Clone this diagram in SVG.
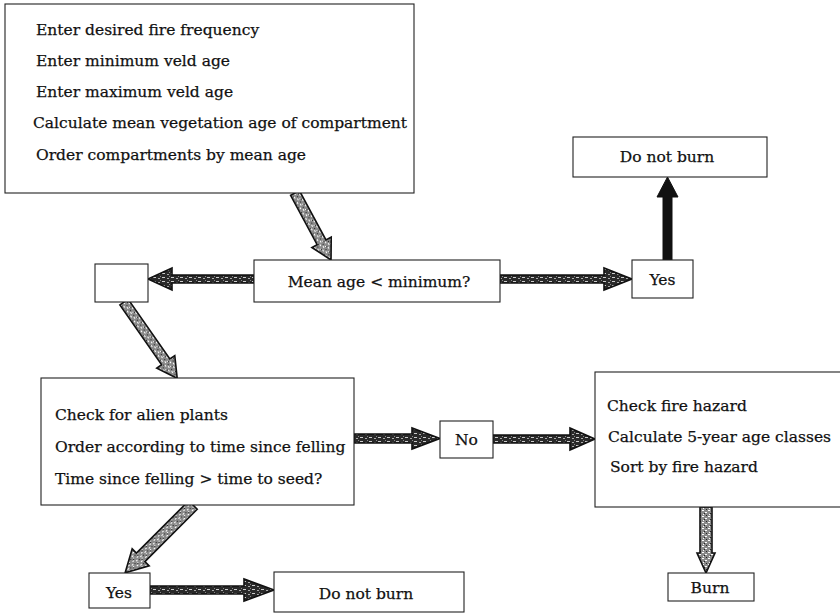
<svg xmlns="http://www.w3.org/2000/svg" width="840" height="614" viewBox="0 0 840 614">
<defs>
<pattern id="hl" width="6" height="6" patternUnits="userSpaceOnUse">
<rect width="6" height="6" fill="#8a8a8a"/>
<rect x="0" y="0" width="2" height="1" fill="#fff"/>
<rect x="3" y="2" width="2" height="1" fill="#fff"/>
<rect x="1" y="4" width="1" height="1" fill="#fff"/>
<rect x="4" y="5" width="1" height="1" fill="#222"/>
<rect x="2" y="3" width="1" height="1" fill="#222"/>
</pattern>
<pattern id="hd" width="9" height="4" patternUnits="userSpaceOnUse">
<rect width="9" height="4" fill="#2a2a2a"/>
<rect x="0" y="1" width="3" height="1" fill="#ccc"/>
<rect x="5" y="2" width="2" height="1" fill="#aaa"/>
<rect x="7" y="0" width="1" height="1" fill="#888"/>
</pattern>
<style>
.box{fill:#fff;stroke:#222;stroke-width:1.1}
.t{font-family:"DejaVu Serif","Liberation Serif",serif;font-size:15.5px;fill:#111;stroke:#111;stroke-width:0.25}
.c{text-anchor:middle}
.al{fill:url(#hl);stroke:#111;stroke-width:1.6;stroke-linejoin:miter}
.ad{fill:url(#hd);stroke:#111;stroke-width:1.6;stroke-linejoin:miter}
.ab{fill:#111;stroke:#111;stroke-width:1}
</style>
</defs>
<rect width="840" height="614" fill="#fff"/>

<g id="connectors">
<polygon class="al" transform="translate(295,193) rotate(61.7)" points="0,-5 56,-5 56,-11 76,0 56,11 56,5 0,5"/>
<polygon class="ad" points="254,275 172,275 172,268 148,279 172,290 172,283 254,283"/>
<polygon class="ad" points="500,275 604,275 604,268 632,279 604,290 604,283 500,283"/>
<polygon class="ab" points="663,260 663,197 657,197 667.5,177 678,197 672,197 672,260"/>
<polygon class="al" transform="translate(124,302) rotate(55.1)" points="0,-5 73,-5 73,-11 93,0 73,11 73,5 0,5"/>
<polygon class="ad" points="354,434 412,434 412,428 440,438.5 412,449 412,443 354,443"/>
<polygon class="ad" points="493,435 570,435 570,428 595,439 570,450 570,443 493,443"/>
<polygon class="al" transform="translate(193,505) rotate(135)" points="0,-6 74,-6 74,-12 96,0 74,12 74,6 0,6"/>
<polygon class="ad" points="150,586 244,586 244,579 274,590 244,601 244,594 150,594"/>
<polygon class="al" points="700,507 700,553 697,553 706,573 715,553 712,553 712,507"/>
</g>

<g id="inputs">
<rect class="box" x="5" y="4" width="409" height="189"/>
<text class="t" x="36" y="35">Enter desired fire frequency</text>
<text class="t" x="36" y="66">Enter minimum veld age</text>
<text class="t" x="36" y="97">Enter maximum veld age</text>
<text class="t" x="33" y="128">Calculate mean vegetation age of compartment</text>
<text class="t" x="36" y="160">Order compartments by mean age</text>
</g>

<g id="mean-age">
<rect class="box" x="254" y="260" width="246" height="42"/>
<text class="t c" x="379" y="287">Mean age &lt; minimum?</text>
</g>

<g id="empty-box">
<rect class="box" x="95" y="264" width="53" height="38"/>
</g>

<g id="yes-top">
<rect class="box" x="632" y="260" width="61" height="38"/>
<text class="t c" x="662.5" y="285">Yes</text>
</g>

<g id="do-not-burn-top">
<rect class="box" x="573" y="137" width="194" height="40"/>
<text class="t c" x="667" y="162">Do not burn</text>
</g>

<g id="alien-plants">
<rect class="box" x="41" y="378" width="313" height="127"/>
<text class="t" x="55" y="420">Check for alien plants</text>
<text class="t" x="55" y="452">Order according to time since felling</text>
<text class="t" x="55" y="484">Time since felling &gt; time to seed?</text>
</g>

<g id="no">
<rect class="box" x="440" y="421" width="53" height="37"/>
<text class="t c" x="466.5" y="445">No</text>
</g>

<g id="fire-hazard">
<rect class="box" x="595" y="372" width="260" height="135"/>
<text class="t" x="607" y="411">Check fire hazard</text>
<text class="t" x="608" y="442">Calculate 5-year age classes</text>
<text class="t" x="610" y="472">Sort by fire hazard</text>
</g>

<g id="yes-bottom">
<rect class="box" x="89" y="573" width="61" height="35"/>
<text class="t c" x="119" y="598">Yes</text>
</g>

<g id="do-not-burn-bottom">
<rect class="box" x="274" y="572" width="190" height="40"/>
<text class="t c" x="366" y="599">Do not burn</text>
</g>

<g id="burn">
<rect class="box" x="668" y="573" width="86" height="28"/>
<text class="t c" x="710" y="593">Burn</text>
</g>
</svg>
